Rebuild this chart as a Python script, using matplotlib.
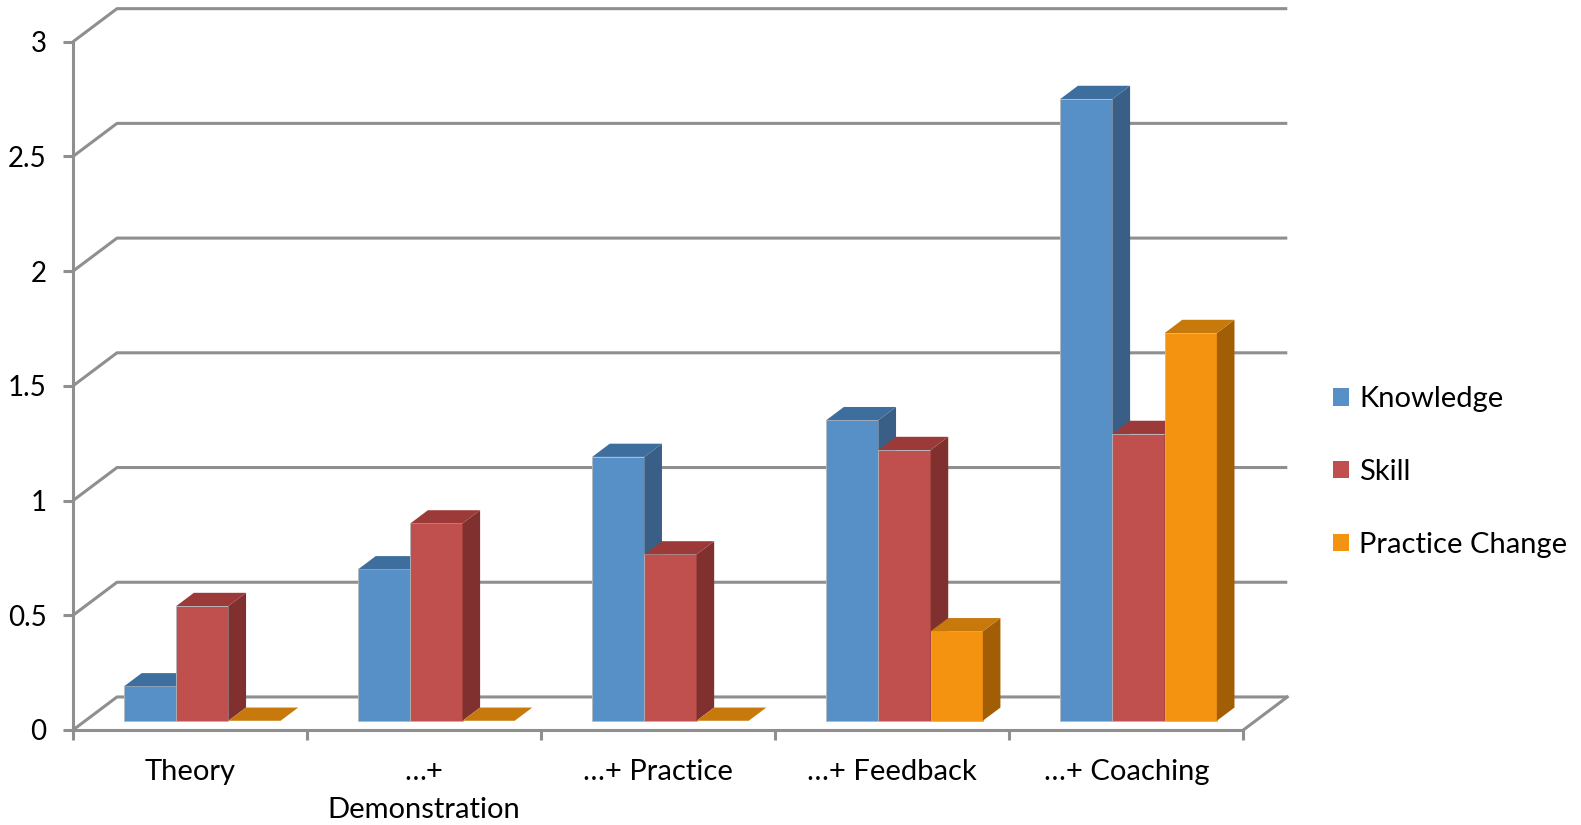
import matplotlib

matplotlib.use("Agg")
import matplotlib.pyplot as plt
from matplotlib.patches import Patch

# ---- data -------------------------------------------------------------
categories = ["Theory", "…+\nDemonstration", "…+ Practice", "…+ Feedback", "…+ Coaching"]
series = ["Knowledge", "Skill", "Practice Change"]
knowledge = [0.15, 0.66, 1.15, 1.31, 2.71]
skill = [0.50, 0.86, 0.725, 1.18, 1.25]
practice_change = [0.0, 0.0, 0.0, 0.39, 1.69]
y_ticks = [0, 0.5, 1, 1.5, 2, 2.5, 3]
y_tick_labels = ["0", "0.5", "1", "1.5", "2", "2.5", "3"]

# front / side / top shades per series
colors = {
    "Knowledge": ("#5690c7", "#395f86", "#3d6e9d"),
    "Skill": ("#c0504d", "#80302e", "#9b3a38"),
    "Practice Change": ("#f3930f", "#a15e05", "#c77a0b"),
}

plt.rcParams["font.family"] = ["Lato", "DejaVu Sans"]

# pseudo-3D geometry (in data units)
DX, DY = 0.188, 0.144        # full depth of the plot box
BAR_Z0, BAR_DZ = 0.28, 0.40  # bar front position / depth as fraction of depth
BAR_W = 0.223
GRID = "#8f8f8f"

fig = plt.figure(figsize=(15.81, 8.25), dpi=100)
ax = fig.add_axes([73 / 1581, 95 / 825, 1170.3 / 1581, 688.3 / 825])
ax.set_xlim(0, 5)
ax.set_ylim(0, 3)

# back wall gridlines + floor
for v in y_ticks:
    ax.plot([0, DX, 5 + DX], [v, v + DY, v + DY], color=GRID, lw=2.2,
            clip_on=False, zorder=1, solid_capstyle="butt")
ax.plot([5 + DX, 5], [DY, 0], color=GRID, lw=2.2, clip_on=False, zorder=1)


def draw_bar(x0, h, cols):
    front, side, top = cols
    ox, oy = BAR_Z0 * DX, BAR_Z0 * DY
    dx, dy = BAR_DZ * DX, BAR_DZ * DY
    xl, xr = x0 + ox, x0 + BAR_W + ox
    yb, yt = oy, h + oy
    if h > 0:
        ax.fill([xl, xr, xr, xl], [yb, yb, yt, yt], facecolor=front,
                edgecolor="#b4b8bd", lw=0.6, clip_on=False, zorder=3)
        ax.fill([xr, xr + dx, xr + dx, xr], [yb, yb + dy, yt + dy, yt],
                color=side, lw=0, clip_on=False, zorder=3)
    ax.fill([xl, xr, xr + dx, xl + dx], [yt, yt, yt + dy, yt + dy],
            color=top, lw=0, clip_on=False, zorder=3)


values = [knowledge, skill, practice_change]
start = 0.5 - 1.5 * BAR_W
for i in range(len(categories)):
    for j, name in enumerate(series):
        draw_bar(i + start + j * BAR_W, values[j][i], colors[name])

# axes
for s in ["top", "right"]:
    ax.spines[s].set_visible(False)
for s in ["left", "bottom"]:
    ax.spines[s].set_color(GRID)
    ax.spines[s].set_linewidth(2.2)
    ax.spines[s].set_zorder(2)
ax.set_yticks(y_ticks)
ax.set_yticklabels(y_tick_labels)
ax.set_xticks(range(6))
ax.set_xticklabels([])
ax.set_xticks([i + 0.5 for i in range(5)], minor=True)
ax.set_xticklabels(categories, minor=True, linespacing=1.58)
ax.tick_params(axis="both", which="major", color=GRID, width=2.2, length=7)
ax.tick_params(axis="y", labelsize=20, pad=12)
ax.tick_params(axis="x", which="minor", length=0, labelsize=21, pad=21)
ax.set_facecolor("none")

handles = [Patch(facecolor=colors[n][0], edgecolor="none") for n in series]
fig.legend(handles, series, loc="center left", bbox_to_anchor=(1333 / 1581, 1 - 472 / 825),
           frameon=False, fontsize=21, handlelength=0.55, handleheight=0.55,
           handletextpad=0.35, labelspacing=1.6, borderaxespad=0, borderpad=0)

fig.savefig("out.png", dpi=100, facecolor="white")
